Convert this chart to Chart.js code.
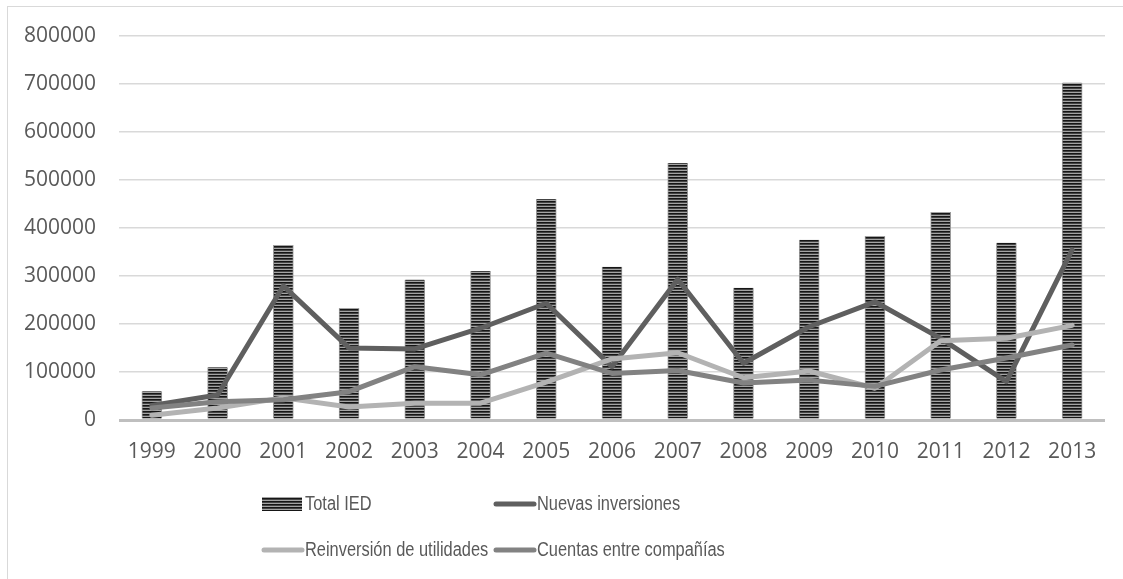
<!DOCTYPE html>
<html>
<head>
<meta charset="utf-8">
<script src="https://cdn.jsdelivr.net/npm/chart.js@4"></script>
<style>
  html, body { margin: 0; padding: 0; background: #fff; }
  #wrap { width: 1123px; height: 579px; }
</style>
</head>
<body>
<div id="wrap"><canvas id="chart" width="1123" height="579"></canvas></div>
<script>
const years = ["1999", "2000", "2001", "2002", "2003", "2004", "2005", "2006", "2007", "2008", "2009", "2010", "2011", "2012", "2013"];
const totalIED = [60000, 110000, 364000, 233000, 292000, 310000, 460000, 319000, 535000, 275000, 375000, 383000, 433000, 369000, 702000];
const nuevasInversiones = [30000, 52000, 279000, 150000, 148000, 191000, 243000, 111000, 293000, 118000, 194000, 246000, 170000, 80000, 354000];
const reinversionUtilidades = [10000, 25000, 46000, 27000, 35000, 35000, 79000, 127000, 140000, 88000, 102000, 66000, 165000, 170000, 197000];
const cuentasCompanias = [25000, 38000, 42000, 59000, 111000, 94000, 139000, 97000, 103000, 77000, 83000, 70000, 104000, 129000, 156000];
const yTicks = [0, 100000, 200000, 300000, 400000, 500000, 600000, 700000, 800000];

const textColor = "#595959";
const tickFont = { family: "'Open Sans', sans-serif", size: 21 };
const legendFont = "20px 'Liberation Sans', sans-serif";

// horizontal striped fill for the bars
function stripes() {
  const c = document.createElement("canvas");
  c.width = 4;
  c.height = 3;
  const g = c.getContext("2d");
  g.fillStyle = "#161616";
  g.fillRect(0, 0, 4, 1);
  g.fillStyle = "#444444";
  g.fillRect(0, 1, 4, 1);
  g.fillStyle = "#a4a4a4";
  g.fillRect(0, 2, 4, 1);
  return g.createPattern(c, "repeat");
}
const barFill = stripes();

const frame = {
  id: "frame",
  beforeDraw(chart) {
    const ctx = chart.ctx;
    ctx.save();
    ctx.strokeStyle = "#d9d9d9";
    ctx.lineWidth = 1;
    ctx.strokeRect(7.5, 6.5, 1200, 700);
    ctx.restore();
  },
};

// two-column legend like the original
const gridLegend = {
  id: "gridLegend",
  afterDraw(chart) {
    const ctx = chart.ctx;
    const cols = [262, 494];
    const rows = [504, 550];
    ctx.save();
    ctx.font = legendFont;
    ctx.textBaseline = "middle";
    chart.data.datasets.forEach((ds, i) => {
      const x = cols[i % 2];
      const y = rows[Math.floor(i / 2)];
      if (ds.type === "bar") {
        ctx.fillStyle = barFill;
        ctx.fillRect(x, y - 7, 40, 14);
      } else {
        ctx.strokeStyle = ds.borderColor;
        ctx.lineWidth = 5;
        ctx.lineCap = "round";
        ctx.beginPath();
        ctx.moveTo(x + 2, y);
        ctx.lineTo(x + 40, y);
        ctx.stroke();
      }
      // the original text is a narrow face, squeeze it a bit
      ctx.save();
      ctx.translate(x + 43, y);
      ctx.scale(0.82, 1);
      ctx.fillStyle = textColor;
      ctx.fillText(ds.label, 0, 0);
      ctx.restore();
    });
    ctx.restore();
  },
};

function lineSet(label, data, color, order) {
  return {
    type: "line",
    label,
    data,
    borderColor: color,
    backgroundColor: color,
    borderWidth: 5,
    borderCapStyle: "round",
    borderJoinStyle: "round",
    pointRadius: 0,
    tension: 0,
    order,
  };
}

new Chart(document.getElementById("chart"), {
  data: {
    labels: years,
    datasets: [
      {
        type: "bar",
        label: "Total IED",
        data: totalIED,
        backgroundColor: barFill,
        borderColor: "#9a9a9a",
        borderWidth: { left: 1, right: 1, top: 0, bottom: 0 },
        barThickness: 20,
        order: 10,
      },
      lineSet("Nuevas inversiones", nuevasInversiones, "#5f5f5f", 3),
      lineSet("Reinversión de utilidades", reinversionUtilidades, "#b3b3b3", 2),
      lineSet("Cuentas entre compañías", cuentasCompanias, "#828282", 1),
    ],
  },
  options: {
    responsive: false,
    animation: false,
    layout: { padding: { top: 35, right: 18, left: 0, bottom: 0 } },
    plugins: {
      legend: { display: false },
      tooltip: { enabled: false },
    },
    scales: {
      x: {
        grid: { display: false },
        border: { display: false },
        ticks: { color: textColor, font: tickFont, padding: 11, maxRotation: 0 },
        afterFit(scale) {
          scale.height = 159;
        },
      },
      y: {
        min: 0,
        max: 800000,
        border: { display: false },
        grid: {
          drawTicks: false,
          color: (c) => (c.tick && c.tick.value === 0 ? "#bfbfbf" : "#d9d9d9"),
          lineWidth: (c) => (c.tick && c.tick.value === 0 ? 3 : 1.5),
        },
        afterBuildTicks(scale) {
          scale.ticks = yTicks.map((v) => ({ value: v }));
        },
        ticks: {
          color: textColor,
          font: tickFont,
          padding: 23,
          callback: (v) => String(v),
        },
        afterFit(scale) {
          scale.width = 119;
        },
      },
    },
  },
  plugins: [frame, gridLegend],
});
</script>
</body>
</html>
